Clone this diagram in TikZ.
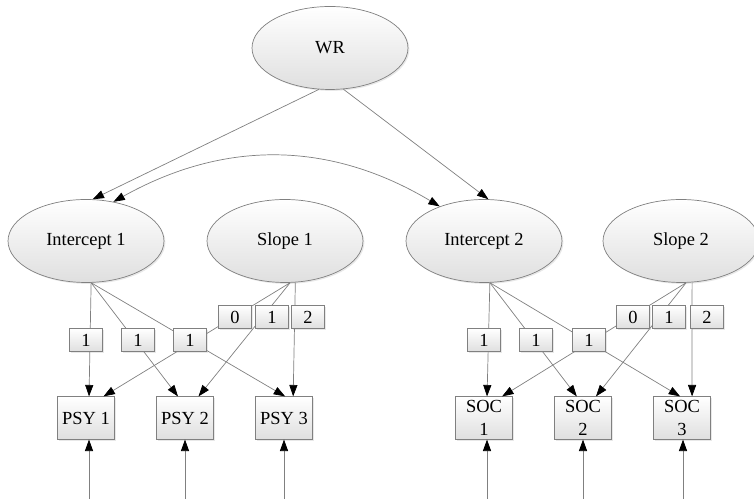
\documentclass[tikz,border=0pt]{standalone}
\usepackage{fontspec}
\setmainfont{Liberation Serif}
\usetikzlibrary{arrows.meta,shapes.geometric,shadows}
\definecolor{linegray}{gray}{0.5}

\begin{document}
\begin{tikzpicture}[x=0.02cm,y=0.02cm,font=\fontsize{10.5}{13}\selectfont,
  boxfill/.style={draw=linegray,top color=white,bottom color=gray!25,
    drop shadow={shadow xshift=0.8pt,shadow yshift=-0.8pt,opacity=0.18}},
  latent/.style={boxfill,ellipse,minimum width=3.12cm,minimum height=1.66cm,inner sep=0pt},
  manifest/.style={boxfill,rectangle,minimum width=1.14cm,minimum height=0.85cm,inner sep=1pt,align=center},
  weight/.style={boxfill,rectangle,minimum width=0.66cm,minimum height=0.46cm,inner sep=0pt},
  link/.style={draw=linegray,-{Triangle[length=6.5pt,width=4.6pt,color=black]}},
  dlink/.style={draw=linegray,{Triangle[length=6.5pt,width=4.6pt,color=black]}-{Triangle[length=6.5pt,width=4.6pt,color=black]}}]
  \useasboundingbox (0,0) rectangle (754,499);

  \node[latent] (wr) at (330,451) {WR};
  \node[latent] (i1) at (86,258) {Intercept 1};
  \node[latent] (s1) at (285,258) {Slope 1};
  \node[latent] (i2) at (484,258) {Intercept 2};
  \node[latent] (s2) at (681,258) {Slope 2};

  \node[manifest] (psy1) at (86,81) {PSY 1};
  \node[manifest] (psy2) at (185,81) {PSY 2};
  \node[manifest] (psy3) at (284,81) {PSY 3};
  \node[manifest] (soc1) at (484,81) {SOC\\1};
  \node[manifest] (soc2) at (583,81) {SOC\\2};
  \node[manifest] (soc3) at (682,81) {SOC\\3};

  \coordinate (b1) at (89,0);
  \coordinate (b2) at (185,0);
  \coordinate (b3) at (284,0);
  \coordinate (b4) at (487,0);
  \coordinate (b5) at (583,0);
  \coordinate (b6) at (683,0);

  \draw[link] (wr.-105) -- (i1.81);
  \draw[link] (wr.-72) -- (i2.84);
  \draw[dlink] (i1.55) to[bend left=30] (i2.142);

  \draw[link] (i1.-83) -- (psy1.82);
  \draw[link] (i1.-83) -- (psy2.108);
  \draw[link] (i1.-83) -- (psy3.87);
  \draw[link] (s1.-83) -- (psy1.51);
  \draw[link] (s1.-83) -- (psy2.58);
  \draw[link] (s1.-76) -- (psy3.67);

  \draw[link] (i2.-82) -- (soc1.82);
  \draw[link] (i2.-82) -- (soc2.106);
  \draw[link] (i2.-82) -- (soc3.95);
  \draw[link] (s2.-83) -- (soc1.50);
  \draw[link] (s2.-83) -- (soc2.59);
  \draw[link] (s2.-75) -- (soc3.65);

  \draw[link] (b1) -- (b1 |- psy1.south);
  \draw[link] (b2) -- (b2 |- psy2.south);
  \draw[link] (b3) -- (b3 |- psy3.south);
  \draw[link] (b4) -- (b4 |- soc1.south);
  \draw[link] (b5) -- (b5 |- soc2.south);
  \draw[link] (b6) -- (b6 |- soc3.south);

  \node[weight] (wi11) at (86,159) {1};
  \node[weight] (wi12) at (138,159) {1};
  \node[weight] (wi13) at (190,159) {1};
  \node[weight] (ws10) at (235,182) {0};
  \node[weight] (ws11) at (272,182) {1};
  \node[weight] (ws12) at (308,182) {2};

  \node[weight] (wi21) at (484,159) {1};
  \node[weight] (wi22) at (536,159) {1};
  \node[weight] (wi23) at (589,159) {1};
  \node[weight] (ws20) at (633,182) {0};
  \node[weight] (ws21) at (669,182) {1};
  \node[weight] (ws22) at (707,182) {2};
\end{tikzpicture}
\end{document}
